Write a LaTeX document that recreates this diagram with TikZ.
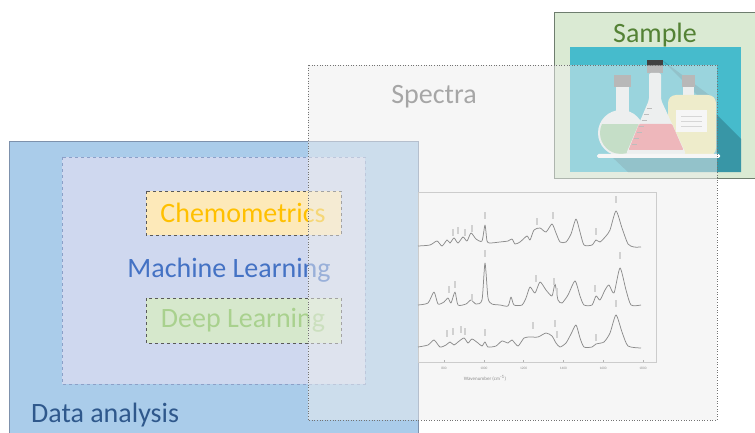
\documentclass[tikz,border=0pt]{standalone}
\usepackage{fontspec}
\setmainfont{Carlito}
\usepackage{xcolor}
\definecolor{dablue}{RGB}{170,204,234}
\definecolor{daborder}{RGB}{125,145,172}
\definecolor{datext}{RGB}{47,88,140}
\definecolor{mlfill}{RGB}{207,216,239}
\definecolor{mlborder}{RGB}{140,160,200}
\definecolor{mltext}{RGB}{68,114,196}
\definecolor{chemfill}{RGB}{253,233,185}
\definecolor{chemtext}{RGB}{255,192,0}
\definecolor{dlfill}{RGB}{214,232,204}
\definecolor{dltext}{RGB}{169,209,142}
\definecolor{samplefill}{RGB}{218,234,211}
\definecolor{sampleborder}{RGB}{110,125,110}
\definecolor{sampletext}{RGB}{84,130,53}
\definecolor{specfill}{RGB}{238,238,238}
\definecolor{spectext}{RGB}{166,166,166}
\definecolor{tealbg}{RGB}{70,187,204}
\definecolor{tealshadow}{RGB}{56,150,166}
\definecolor{flaskgreen}{RGB}{156,206,160}
\definecolor{flaskpink}{RGB}{240,128,136}
\definecolor{flaskyellow}{RGB}{240,234,168}
\definecolor{capgray}{RGB}{130,130,130}
\definecolor{glass}{RGB}{236,242,242}
\definecolor{tracegray}{RGB}{140,140,140}

\begin{document}
\begin{tikzpicture}[x=1pt, y=-1pt,
    bigtext/.style={font=\fontsize{28}{34}\selectfont, inner sep=0pt},
    methodbox/.style={draw=black!65, dashed, line width=0.7pt},
    trace/.style={draw=tracegray, line width=0.75pt, line join=round},
    ticklab/.style={font=\fontsize{3.5}{4}\selectfont, text=black!45, inner sep=0pt}]
    \useasboundingbox (0,0) rectangle (755,433);
    \clip (0,0) rectangle (755,433);

    % Data analysis
    \draw[fill=dablue, draw=daborder, line width=0.8pt] (9,141) rectangle (418,445);
    \node[bigtext, anchor=base west, text=datext] (datitle) at (31,422) {Data analysis};

    % Machine learning with its two methods
    \draw[fill=mlfill, draw=mlborder, dashed, line width=0.7pt] (62,157) rectangle (365,384);
    \node[bigtext, anchor=base, text=mltext] (mllabel) at (229,277) {Machine Learning};
    \draw[methodbox, fill=chemfill] (146,191) rectangle (341,235);
    \node[bigtext, anchor=base, text=chemtext] (chemlabel) at (243,222) {Chemometrics};
    \draw[methodbox, fill=dlfill] (146,298) rectangle (341,343);
    \node[bigtext, anchor=base, text=dltext] (dllabel) at (243,327) {Deep Learning};

    % Sample
    \draw[fill=samplefill, draw=sampleborder, line width=0.8pt] (554,12) rectangle (765,178);
    \node[bigtext, anchor=base, text=sampletext] (sampletitle) at (655,43) {Sample};

    % flasks
    \fill[tealbg] (570,47) rectangle (741,172);
    \fill[tealshadow] (662,60) -- (741,139) -- (741,172) -- (628,172) -- (611,156) -- (716,156) -- (716,100) -- cycle;
    % bottle
    \fill[capgray] (682,75) rectangle (695,87);
    \fill[glass] (683,87) rectangle (694,97);
    \fill[flaskyellow, rounded corners=8pt] (668,95) rectangle (716,156);
    \fill[white] (676,110) rectangle (707,132);
    \foreach \y in {116,121,126}
        \draw[black!25, line width=0.6pt] (681,\y) -- (702,\y);
    % round flask
    \fill[capgray] (614,75) rectangle (631,87);
    \fill[glass] (616,87) rectangle (629,115);
    \fill[glass] (621,133) circle (23);
    \begin{scope}
        \clip (621,133) circle (21);
        \fill[flaskgreen] (590,124) rectangle (650,160);
    \end{scope}
    % conical flask
    \fill[black!75] (647,60) rectangle (663,66);
    \fill[capgray] (647,66) rectangle (663,73);
    \fill[glass, rounded corners=2pt] (649,73) -- (649,100) -- (626,154) -- (686,154) -- (661,100) -- (661,73) -- cycle;
    \fill[flaskpink, rounded corners=1pt] (639,124) -- (628.5,150) -- (683.5,150) -- (672,124) -- cycle;
    \foreach \y/\x in {108/646,114/643,120/640.5,126/638,132/635.5,138/633,144/630.5}
        \draw[black!45, line width=0.5pt] (\x+1,\y) -- (\x+6,\y);
    \fill[white, rounded corners=1.5pt] (597,154) rectangle (720,158);

    % Spectra (see-through, on top)
    \fill[specfill, fill opacity=0.5] (308,65) rectangle (717,420);
    \draw[dotted, black!55, line width=0.6pt] (308,65) rectangle (717,420);
    \node[bigtext, anchor=base, text=spectext] (spectratitle) at (434,104) {Spectra};

    % plot
    \draw[black!20, line width=0.7pt] (418,192) rectangle (656,362);
    \draw[trace] plot[smooth, tension=0.4] coordinates {(418,246) (430,245) (437,241) (442,246) (447,240) (450,243) (454,238) (458,243) (463,237) (467,241) (471,233) (476,239) (482,241) (485,225) (487,241) (490,243) (500,242) (508,241) (512,239) (515,244) (520,242) (527,236) (530,240) (534,230) (540,228) (546,232) (552,224) (556,233) (560,242) (566,242) (571,234) (576,219) (580,232) (584,245) (592,245) (596,240) (600,242) (606,236) (610,230) (616,211) (622,228) (628,244) (634,247) (641,247)};
    \draw[trace] plot[smooth, tension=0.4] coordinates {(418,305) (428,303) (434,292) (438,304) (444,302) (448,298) (451,303) (455,292) (458,305) (466,304) (471,300) (476,304) (482,300) (485,263) (488,298) (492,304) (500,305) (508,306) (511,297) (514,305) (522,305) (526,298) (530,287) (535,293) (540,282) (546,290) (552,296) (555,284) (558,300) (562,303) (568,295) (575,281) (580,296) (584,305) (592,305) (596,296) (600,300) (605,290) (609,285) (614,293) (620,268) (626,290) (631,305) (641,305)};
    \draw[trace] plot[smooth, tension=0.4] coordinates {(418,347) (428,345) (434,340) (440,347) (446,345) (450,342) (454,345) (458,342) (464,338) (468,343) (472,339) (478,343) (482,346) (485,342) (488,347) (496,346) (502,341) (508,343) (512,340) (518,346) (524,338) (530,337) (538,337) (546,333) (552,336) (556,343) (560,347) (566,343) (571,334) (576,325) (580,338) (584,347) (592,347) (596,344) (604,342) (610,333) (616,315) (622,332) (628,346) (641,348)};
    % peak marks
    \foreach \x/\y in {453/229,458/227,465/229,472/225,485/212,537/218,553/212,596/228,616/196,
                       449/286,455/281,472/294,485/250,536/275,554/278,557/288,595/285,620/252,
                       447/330,453/328,461/326,465/328,485/329,533/322,555/320,557/331,596/334,616/300}
        \fill[black!18] (\x-0.8,\y) rectangle (\x+0.8,\y+7);
    % x axis
    \foreach \w [count=\i] in {800,1000,...,1800} {
        \draw[black!30, line width=0.5pt] (444+0.199*\w-159.2,362) -- ++(0,-2);
        \node[ticklab] (tick\i) at (444+0.199*\w-159.2,368) {\w};
    }
    \node[font=\fontsize{5}{6}\selectfont, text=black!45, inner sep=0pt] (xlabel) at (485,378) {Wavenumber (cm\textsuperscript{-1})};
\end{tikzpicture}
\end{document}
